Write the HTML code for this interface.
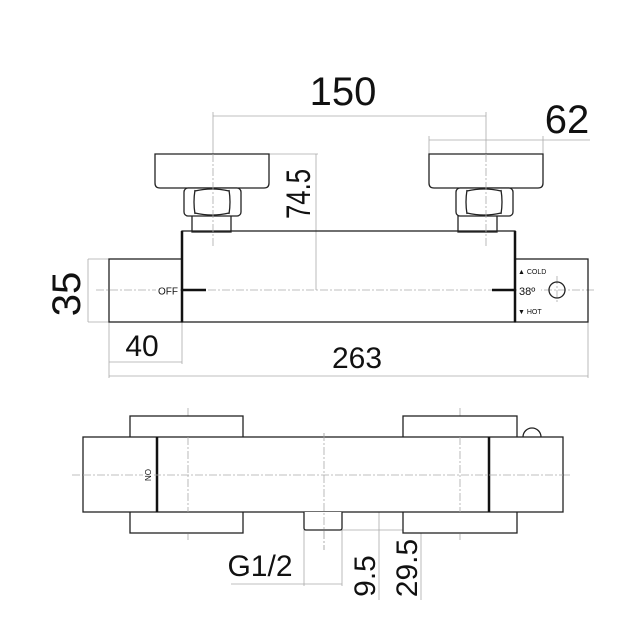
<!DOCTYPE html>
<html><head><meta charset="utf-8"><style>
html,body{margin:0;padding:0;background:#fff;width:640px;height:640px;overflow:hidden}
text{font-family:"Liberation Sans","DejaVu Sans",sans-serif;fill:#111}
</style></head><body>
<svg width="640" height="640" viewBox="0 0 640 640" xmlns="http://www.w3.org/2000/svg">
<g fill="none" stroke="#aaa" stroke-width="0.8">
 <line x1="213" y1="116" x2="486" y2="116"/>
 <line x1="213" y1="112" x2="213" y2="154"/>
 <line x1="486" y1="112" x2="486" y2="154"/>
 <line x1="429" y1="140" x2="590" y2="140"/>
 <line x1="429" y1="136" x2="429" y2="154"/>
 <line x1="543" y1="136" x2="543" y2="154"/>
 <line x1="269" y1="154" x2="318" y2="154"/>
 <line x1="316" y1="154" x2="316" y2="290"/>
 <line x1="88" y1="259" x2="109" y2="259"/>
 <line x1="88" y1="322" x2="109" y2="322"/>
 <line x1="88" y1="259" x2="88" y2="322"/>
 <line x1="109" y1="322" x2="109" y2="378"/>
 <line x1="182" y1="322" x2="182" y2="364"/>
 <line x1="588" y1="322" x2="588" y2="378"/>
 <line x1="109" y1="362" x2="182" y2="362"/>
 <line x1="109" y1="376" x2="588" y2="376"/>
 <line x1="231" y1="584" x2="342" y2="584"/>
 <line x1="304" y1="530" x2="304" y2="586"/>
 <line x1="342" y1="530" x2="342" y2="586"/>
 <line x1="342" y1="530" x2="422" y2="530"/>
 <line x1="379" y1="512" x2="379" y2="600"/>
 <line x1="421" y1="475" x2="421" y2="600"/>
</g>
<g fill="none" stroke="#aaa" stroke-width="0.8" stroke-dasharray="8,2,2,2">
 <line x1="96" y1="290" x2="596" y2="290"/>
 <line x1="557" y1="276" x2="557" y2="304"/>
 <line x1="72" y1="475" x2="570" y2="475"/>
 <line x1="188" y1="408" x2="188" y2="540"/>
 <line x1="460" y1="408" x2="460" y2="540"/>
 <line x1="324" y1="433" x2="324" y2="550"/>
</g>
<g fill="#fff" stroke="#222" stroke-width="1.3">
 <path d="M155 154 H269 V183 Q269 188 264 188 H160 Q155 188 155 183 Z"/>
 <path d="M429 154 H543 V183 Q543 188 538 188 H434 Q429 188 429 183 Z"/>
 <rect x="192" y="215" width="39" height="17"/>
 <rect x="458" y="215" width="39" height="17"/>
 <rect x="184" y="188" width="57" height="28" rx="4"/>
 <rect x="456" y="188" width="57" height="28" rx="4"/>
 <path d="M195 190 Q193 202 195 214 M229 190 Q231 202 229 214 M195 191 Q212 187 229 191 M195 213 Q212 217 229 213" fill="none"/>
 <path d="M467 190 Q465 202 467 214 M501 190 Q503 202 501 214 M467 191 Q484 187 501 191 M467 213 Q484 217 501 213" fill="none"/>
 <rect x="182" y="231" width="333" height="91" fill="none"/>
 <rect x="109" y="259" width="73" height="63" fill="none"/>
 <rect x="515" y="259" width="73" height="63" fill="none"/>
 <circle cx="557" cy="290" r="8" fill="none"/>
 <rect x="130" y="416" width="113" height="117"/>
 <rect x="403" y="416" width="114" height="117"/>
 <path d="M523 437 A9 9 0 0 1 541 437"/>
 <rect x="83" y="437" width="480" height="75"/>
 <path d="M304 512 V528 Q304 530 306 530 H340 Q342 530 342 528 V512" />
</g>
<g fill="none" stroke="#aaa" stroke-width="0.8" stroke-dasharray="8,2,2,2">
 <line x1="213" y1="154" x2="213" y2="248"/>
 <line x1="486" y1="154" x2="486" y2="248"/>
</g>
<g stroke="#111" stroke-width="2.5">
 <line x1="182" y1="231" x2="182" y2="322"/>
 <line x1="515" y1="231" x2="515" y2="322"/>
 <line x1="182" y1="290" x2="206" y2="290"/>
 <line x1="492" y1="290" x2="515" y2="290"/>
 <line x1="157" y1="437" x2="157" y2="512"/>
 <line x1="489" y1="437" x2="489" y2="512"/>
</g>
<g fill="none" stroke="#aaa" stroke-width="0.8" stroke-dasharray="8,2,2,2">
 <line x1="324" y1="433" x2="324" y2="550"/>
 <line x1="188" y1="437" x2="188" y2="512"/>
 <line x1="460" y1="437" x2="460" y2="512"/>
 <line x1="83" y1="475" x2="563" y2="475"/>
</g>
<g>
 <rect x="156" y="284" width="24" height="12" fill="#fff"/>
 <text x="178" y="294.5" font-size="10" text-anchor="end">OFF</text>
 <text x="518" y="274" font-size="7">▲ COLD</text>
 <rect x="517" y="283" width="24" height="14" fill="#fff"/>
 <text x="519" y="295" font-size="11">38º</text>
 <text x="518" y="314" font-size="7">▼ HOT</text>
 <rect x="143" y="466" width="11" height="18" fill="#fff"/>
 <text transform="translate(145,475) rotate(90)" font-size="8" text-anchor="middle">ON</text>
 <text x="343" y="105" font-size="40" text-anchor="middle">150</text>
 <text x="567" y="133" font-size="40" text-anchor="middle">62</text>
 <text transform="translate(310,194) rotate(-90)" font-size="34" text-anchor="middle" textLength="50" lengthAdjust="spacingAndGlyphs">74.5</text>
 <text transform="translate(80,294) rotate(-90)" font-size="40" text-anchor="middle">35</text>
 <text x="142" y="356" font-size="30" text-anchor="middle">40</text>
 <text x="357" y="368" font-size="30" text-anchor="middle">263</text>
 <text x="260" y="576" font-size="30" text-anchor="middle">G1/2</text>
 <text transform="translate(375,576) rotate(-90)" font-size="30" text-anchor="middle">9.5</text>
 <text transform="translate(417,568) rotate(-90)" font-size="30" text-anchor="middle">29.5</text>
</g>
</svg>
</body></html>
